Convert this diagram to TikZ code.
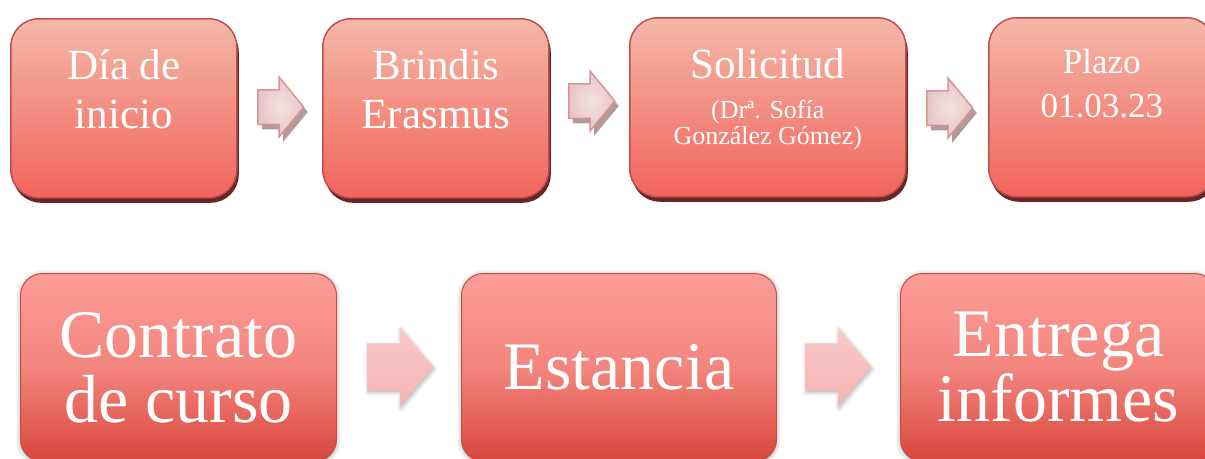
\documentclass[tikz,border=0pt]{standalone}
\usepackage{fontspec}
\setmainfont{Liberation Serif}
\usetikzlibrary{positioning,shapes.arrows,shadows,shadows.blur}

\definecolor{boxtop}{HTML}{F4B8A9}
\definecolor{boxbot}{HTML}{F2645C}
\definecolor{boxline}{HTML}{C0504D}
\definecolor{boxshade}{HTML}{6A2624}
\definecolor{stagetop}{HTML}{FD9D98}
\definecolor{stagemid}{HTML}{F3857D}
\definecolor{stagebot}{HTML}{D8463C}
\definecolor{arrline}{HTML}{D99594}
\definecolor{arrin}{HTML}{F4E2E2}
\definecolor{arrout}{HTML}{E8C5C5}
\definecolor{arrshade}{HTML}{B39999}
\definecolor{bigarrtop}{HTML}{FAC9C9}
\definecolor{bigarrbot}{HTML}{F6B3B3}

\newcommand{\subline}{\fontsize{26}{26}\selectfont}

\begin{document}
\begin{tikzpicture}[x=1pt, y=-1pt,
  topbox/.style={anchor=north west, draw=boxline, line width=1.5pt, rounded corners=28pt,
    top color=boxtop, bottom color=boxbot, minimum height=179pt, inner sep=0pt,
    drop shadow={fill=boxshade, opacity=1, shadow xshift=2pt, shadow yshift=-5pt}},
  toptext/.style={anchor=north, text=white, align=center, inner sep=0pt,
    font=\fontsize{43}{49}\selectfont},
  stagebox/.style={anchor=north west, draw=boxline, line width=1pt, rounded corners=22pt,
    top color=stagetop, bottom color=stagebot, middle color=stagemid,
    minimum height=188pt, text=white, align=center, font=\fontsize{68}{65}\selectfont,
    blur shadow={shadow xshift=0pt, shadow yshift=-1pt, shadow blur radius=5pt, shadow opacity=35}},
  linkarrow/.style={single arrow, anchor=tail, draw=arrline, line width=1.5pt,
    inner color=arrin, outer color=arrout,
    minimum height=46pt, inner xsep=0pt, inner ysep=16.5pt, single arrow head extend=12.5pt,
    single arrow tip angle=101,
    drop shadow={fill=arrshade, opacity=1, shadow xshift=4pt, shadow yshift=-5pt}},
  bigarrow/.style={single arrow, anchor=tail, top color=bigarrtop, bottom color=bigarrbot,
    minimum height=66pt, inner xsep=0pt, inner ysep=23.5pt, single arrow head extend=16pt,
    single arrow tip angle=100,
    blur shadow={shadow xshift=1pt, shadow yshift=-2pt, shadow blur radius=4pt, shadow opacity=30}}]

\useasboundingbox (0,0) rectangle (1205,458);
\clip (0,0) rectangle (1205,458);

% ---------- first row ----------
\node[topbox, minimum width=226pt] (dia) at (10,18) {};
\node[topbox, minimum width=226pt] (brindis) at (322,18) {};
\node[topbox, minimum width=276pt] (solicitud) at (629,17) {};
\node[topbox, minimum width=226pt] (plazo) at (988,17) {};

\node[toptext] (dia-t) at ([yshift=-31pt]dia.north) {Día de\\inicio};
\node[toptext] (brindis-t) at ([yshift=-31pt]brindis.north) {Brindis\\Erasmus};
\node[toptext] (solicitud-t) at ([yshift=-31pt]solicitud.north)
  {Solicitud\\[-9pt]\subline (Drª. Sofía\\[-23pt]\subline González Gómez)};
\node[toptext, font=\fontsize{35}{44}\selectfont] (plazo-t) at ([yshift=-32pt]plazo.north)
  {Plazo\\01.03.23};

\foreach \nm/\x/\y in {ab/257/107, bs/568/101, sp/926/108}{
  \node[linkarrow] (\nm) at (\x,\y) {};}

% ---------- second row ----------
\node[stagebox, minimum width=316pt] (contrato) at (20,273) {Contrato\\de curso};
\node[stagebox, minimum width=315pt] (estancia) at (461,273) {Estancia};
\node[stagebox, minimum width=316pt] (entrega) at (900,273) {Entrega\\informes};

\node[bigarrow] (ce) at (367,367) {};
\node[bigarrow] (ee) at (805,367) {};
\end{tikzpicture}
\end{document}
